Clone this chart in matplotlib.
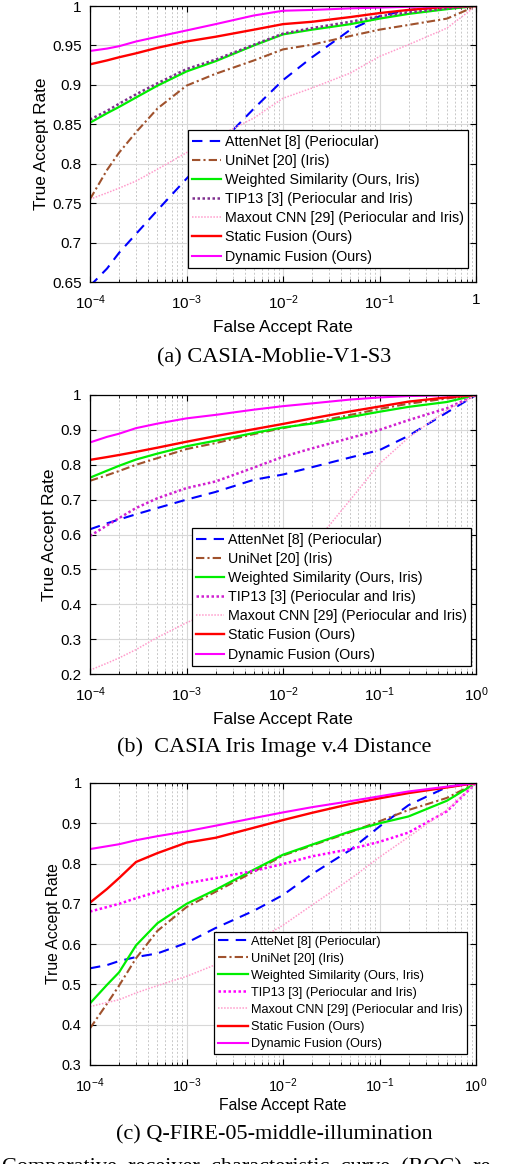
import numpy as np
import matplotlib
matplotlib.use('Agg')
import matplotlib.pyplot as plt

plt.rcParams['font.family'] = ['Liberation Sans', 'DejaVu Sans']
plt.rcParams['mathtext.default'] = 'regular'

# ── data ──────────────────────────────────────────────────────────────────────
FAR = [1e-4, 1.5e-4, 2e-4, 3e-4, 5e-4, 1e-3, 2e-3, 5e-3, 1e-2, 2e-2, 5e-2, 1e-1, 2e-1, 5e-1, 1.0]

LABELS_AB = ['AttenNet [8] (Periocular)', 'UniNet [20] (Iris)',
             'Weighted Similarity (Ours, Iris)', 'TIP13 [3] (Periocular and Iris)',
             'Maxout CNN [29] (Periocular and Iris)', 'Static Fusion (Ours)',
             'Dynamic Fusion (Ours)']
LABELS_C = ['AtteNet [8] (Periocular)'] + LABELS_AB[1:]

# (a) CASIA-Moblie-V1-S3
a_atten   = [.645, .667, .687, .711, .741, .781, .820, .870, .906, .935, .970, .987, .995, .999, 1.0]
a_uninet  = [.755, .792, .814, .840, .870, .899, .914, .931, .945, .951, .962, .970, .976, .984, 1.0]
a_weight  = [.852, .864, .872, .884, .899, .917, .930, .950, .964, .970, .977, .984, .990, .996, 1.0]
a_tip13   = [.856, .867, .876, .888, .902, .920, .932, .951, .965, .972, .980, .987, .992, .997, 1.0]
a_maxout  = [.755, .763, .769, .778, .793, .814, .833, .858, .883, .896, .915, .936, .951, .972, 1.0]
a_static  = [.926, .931, .935, .940, .947, .955, .961, .970, .977, .980, .986, .991, .995, .999, 1.0]
a_dynamic = [.943, .946, .949, .955, .961, .969, .977, .988, .994, .995, .997, .998, .999, .9995, 1.0]

# (b) CASIA Iris Image v.4 Distance
b_atten   = [.615, .632, .643, .658, .676, .700, .722, .757, .772, .793, .821, .842, .883, .950, 1.0]
b_uninet  = [.754, .770, .782, .800, .819, .845, .862, .888, .905, .921, .943, .960, .975, .990, 1.0]
b_weight  = [.763, .783, .797, .815, .832, .853, .869, .891, .907, .918, .937, .952, .966, .980, 1.0]
b_tip13   = [.596, .626, .647, .676, .704, .733, .752, .792, .823, .847, .877, .900, .928, .962, 1.0]
b_maxout  = [.211, .231, .246, .270, .305, .347, .383, .425, .470, .566, .700, .803, .878, .957, 1.0]
b_static  = [.814, .822, .828, .837, .849, .866, .882, .902, .917, .933, .953, .967, .981, .993, 1.0]
b_dynamic = [.864, .880, .889, .905, .918, .933, .943, .958, .968, .976, .987, .993, .997, .999, 1.0]

# (c) Q-FIRE-05-middle-illumination
c_atten   = [.540, .548, .558, .568, .577, .603, .640, .683, .722, .774, .834, .892, .945, .990, 1.0]
c_uninet  = [.391, .452, .497, .565, .633, .692, .730, .780, .820, .845, .878, .905, .933, .963, 1.0]
c_weight  = [.453, .499, .530, .597, .652, .700, .735, .785, .822, .847, .880, .900, .917, .956, 1.0]
c_tip13   = [.681, .692, .700, .714, .730, .751, .764, .782, .799, .818, .836, .854, .877, .930, 1.0]
c_maxout  = [.445, .455, .462, .479, .497, .520, .549, .605, .647, .697, .762, .816, .866, .933, 1.0]
c_static  = [.703, .737, .764, .804, .826, .852, .864, .889, .908, .926, .948, .962, .975, .989, 1.0]
c_dynamic = [.836, .843, .848, .858, .868, .880, .894, .913, .927, .940, .955, .967, .979, .991, 1.0]

X_TICKS = [1e-4, 1e-3, 1e-2, 1e-1, 1.0]
X_LABELS_A = ['$10^{-4}$', '$10^{-3}$', '$10^{-2}$', '$10^{-1}$', '1']
X_LABELS_BC = ['$10^{-4}$', '$10^{-3}$', '$10^{-2}$', '$10^{-1}$', '$10^{0}$']

Y_TICKS_A = [0.65, 0.7, 0.75, 0.8, 0.85, 0.9, 0.95, 1.0]
Y_LABELS_A = ['0.65', '0.7', '0.75', '0.8', '0.85', '0.9', '0.95', '1']
Y_TICKS_B = [0.2, 0.3, 0.4, 0.5, 0.6, 0.7, 0.8, 0.9, 1.0]
Y_LABELS_B = ['0.2', '0.3', '0.4', '0.5', '0.6', '0.7', '0.8', '0.9', '1']
Y_TICKS_C = [0.3, 0.4, 0.5, 0.6, 0.7, 0.8, 0.9, 1.0]
Y_LABELS_C = ['0.3', '0.4', '0.5', '0.6', '0.7', '0.8', '0.9', '1']

CAPTIONS = ['(a) CASIA-Moblie-V1-S3', '(b)  CASIA Iris Image v.4 Distance',
            '(c) Q-FIRE-05-middle-illumination']
FOOTER = 'Comparative  receiver  characteristic  curve  (ROC)  re'

# ── styles ───────────────────────────────────────────────────────────────────
BLUE, BROWN, GREEN, PINK, RED, MAG = '#0000ff', '#a0522d', '#00ee00', '#ff9ccc', '#ff0000', '#ff00ff'


def style_list(tip_color):
    return [
        dict(color=BLUE, lw=1.5, ls=(0, (5, 3.5))),
        dict(color=BROWN, lw=1.5, ls=(0, (4, 1.5, 1, 1.5))),
        dict(color=GREEN, lw=1.6, ls='-'),
        dict(color=tip_color, lw=1.8, ls=(0, (1, 1))),
        dict(color=PINK, lw=1.1, ls=(0, (1, 1))),
        dict(color=RED, lw=1.7, ls='-'),
        dict(color=MAG, lw=1.5, ls='-'),
    ]


def draw(ax, series, labels, styles, ylim, yticks, ylabels, xlabels,
         leg_anchor, leg_fs, leg_hl, leg_sp, lab_fs, tick_fs, xpad, ypad):
    for y, lab, st in zip(series, labels, styles):
        ax.plot(FAR, y, label=lab, **st)
    ax.set_xscale('log')
    ax.set_xlim(1e-4, 1)
    ax.set_ylim(*ylim)
    ax.set_xticks(X_TICKS)
    ax.set_xticklabels(xlabels)
    ax.set_yticks(yticks)
    ax.set_yticklabels(ylabels)
    ax.grid(True, which='major', color='#d8d8d8', lw=0.8)
    ax.grid(True, which='minor', axis='x', color='#c8c8c8', lw=0.7, ls=(0, (2, 2)))
    ax.set_axisbelow(True)
    ax.tick_params(which='both', direction='in', top=True, right=True, labelsize=tick_fs)
    ax.tick_params(which='major', length=4)
    ax.tick_params(which='minor', length=2)
    ax.tick_params(axis='x', which='major', pad=8)
    ax.tick_params(axis='y', which='major', pad=6)
    for sp in ax.spines.values():
        sp.set_linewidth(0.9)
    ax.set_xlabel('False Accept Rate', fontsize=lab_fs, labelpad=xpad)
    ax.set_ylabel('True Accept Rate', fontsize=lab_fs, labelpad=ypad)
    leg = ax.legend(loc='lower right', bbox_to_anchor=leg_anchor, fontsize=leg_fs,
                    frameon=True, fancybox=False, framealpha=1, edgecolor='black',
                    handlelength=leg_hl, handletextpad=0.25, labelspacing=leg_sp,
                    borderpad=0.3, borderaxespad=0)
    leg.get_frame().set_linewidth(0.9)


fig = plt.figure(figsize=(5.2, 11.64), dpi=100)
H = 1164.0


def axes_at(top, bottom):
    return fig.add_axes([90 / 520, 1 - bottom / H, 386 / 520, (bottom - top) / H])


ax_a = axes_at(6, 282)
draw(ax_a, [a_atten, a_uninet, a_weight, a_tip13, a_maxout, a_static, a_dynamic],
     LABELS_AB, style_list('#7e2f8e'), (0.65, 1.0), Y_TICKS_A, Y_LABELS_A, X_LABELS_A,
     (0.979, 0.051), 10.3, 2.0, 0.36, 12.4, 11, 6, 2.1)

ax_b = axes_at(395, 674)
draw(ax_b, [b_atten, b_uninet, b_weight, b_tip13, b_maxout, b_static, b_dynamic],
     LABELS_AB, style_list('#d020d0'), (0.2, 1.0), Y_TICKS_B, Y_LABELS_B, X_LABELS_BC,
     (0.988, 0.029), 10.3, 2.0, 0.36, 12.4, 11, 6, 2.8)

ax_c = axes_at(783, 1065)
draw(ax_c, [c_atten, c_uninet, c_weight, c_tip13, c_maxout, c_static, c_dynamic],
     LABELS_C, style_list('#ff00ff'), (0.3, 1.0), Y_TICKS_C, Y_LABELS_C, X_LABELS_BC,
     (0.977, 0.039), 9.2, 2.35, 0.4, 11.3, 10.4, 2.5, 0.5)

serif = ['Liberation Serif', 'DejaVu Serif']
for cap, yc in zip(CAPTIONS, [358, 747, 1135]):
    fig.text(274 / 520, 1 - yc / H, cap, ha='center', va='center',
             fontsize=16, family=serif)
fig.text(2 / 520, 1 - 1172 / H, FOOTER, ha='left', va='baseline',
         fontsize=16, family=serif)

fig.savefig('out.png', dpi=100)
